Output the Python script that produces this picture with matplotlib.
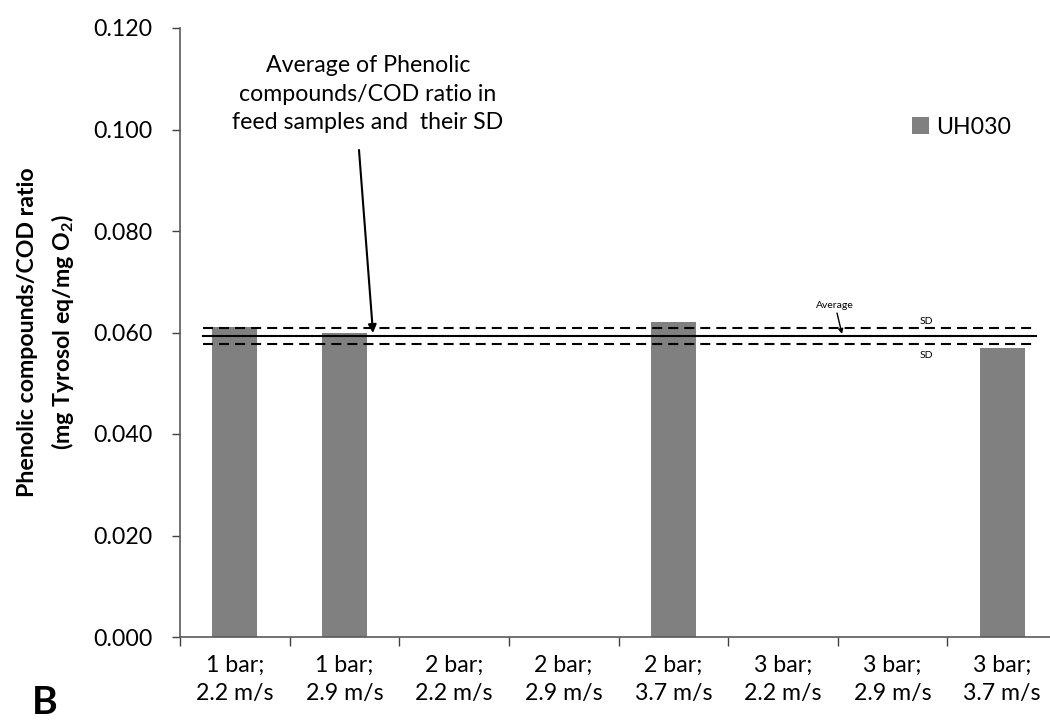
import matplotlib
matplotlib.use("Agg")
import matplotlib.pyplot as plt
import numpy as np

plt.rcParams['font.family'] = ['Lato', 'DejaVu Sans']

categories = ["1 bar;\n2.2 m/s", "1 bar;\n2.9 m/s", "2 bar;\n2.2 m/s", "2 bar;\n2.9 m/s",
              "2 bar;\n3.7 m/s", "3 bar;\n2.2 m/s", "3 bar;\n2.9 m/s", "3 bar;\n3.7 m/s"]
uh030 = [0.0610, 0.0600, np.nan, np.nan, 0.0621, np.nan, np.nan, 0.0569]
feed_average = 0.0593
feed_sd = 0.0016
series_name = "UH030"
yticks = [0.000, 0.020, 0.040, 0.060, 0.080, 0.100, 0.120]

W, H = 1050, 725
fig = plt.figure(figsize=(W/100, H/100), dpi=100)
renderer = fig.canvas.get_renderer()

# choose a font size so that a tick label has the width seen in the reference
probe = fig.text(0, 0, "0.120", fontsize=10)
w10 = probe.get_window_extent(renderer).width
probe.remove()
FS = 10 * 59 / w10

y_top_px, y0_px = 28, 637
ax = fig.add_axes([180/W, 1-y0_px/H, (1057-180)/W, (y0_px-y_top_px)/H])

x = np.arange(len(categories))
ax.bar(x, uh030, width=0.41, color='#808080', label=series_name, zorder=2)

ax.set_xlim(-0.5, len(categories) - 0.5)
ax.set_ylim(0, 0.12)
ax.set_yticks(yticks)
ax.set_yticklabels([f"{v:.3f}" for v in yticks], fontsize=FS)
ax.set_xticks(x)
ax.set_xticklabels(categories, fontsize=FS, linespacing=1.4)
ax.set_xticks(np.arange(-0.5, len(categories), 1), minor=True)
ax.tick_params(axis='x', which='major', length=0, pad=13)
ax.tick_params(axis='x', which='minor', length=6.5, width=1, color='#404040', direction='out')
ax.tick_params(axis='y', length=6, width=1, color='#404040', direction='out', pad=14)
for s in ['top', 'right']:
    ax.spines[s].set_visible(False)
for s in ['left', 'bottom']:
    ax.spines[s].set_color('#5a5a5a')
    ax.spines[s].set_linewidth(1.2)

xl = [-0.29, 7.31]
ax.plot(xl, [feed_average]*2, color='black', lw=1.5, zorder=3)
ax.plot(xl, [feed_average + feed_sd]*2, color='black', lw=1.5, dashes=(4.8, 2.9), zorder=3)
ax.plot(xl, [feed_average - feed_sd]*2, color='black', lw=1.5, dashes=(4.8, 2.9), zorder=3)

def px2data(px, py):
    return ax.transData.inverted().transform(fig.transFigure.transform((px/W, 1-py/H)))

tx, ty = px2data(368, 94)
ax0, ay0 = px2data(359, 150)
ax1, ay1 = px2data(373, 333)
ax.text(tx, ty, "Average of Phenolic\ncompounds/COD ratio in\nfeed samples and  their SD",
        ha='center', va='center', fontsize=FS, linespacing=1.45)
ax.annotate("", xy=(ax1, ay1), xytext=(ax0, ay0),
            arrowprops=dict(arrowstyle='-|>', color='black', lw=1.5, mutation_scale=12,
                            shrinkA=0, shrinkB=0))

avx, avy = px2data(835, 305)
a0 = px2data(837, 313)
a1 = px2data(842, 334)
ax.text(avx, avy, "Average", ha='center', va='center', fontsize=FS*0.45)
ax.annotate("", xy=a1, xytext=a0,
            arrowprops=dict(arrowstyle='-|>', color='black', lw=1, mutation_scale=7,
                            shrinkA=0, shrinkB=0))
s1 = px2data(926, 321)
s2 = px2data(926, 355)
ax.text(s1[0], s1[1], "SD", ha='center', va='center', fontsize=FS*0.45)
ax.text(s2[0], s2[1], "SD", ha='center', va='center', fontsize=FS*0.45)

fig.text(28/W, 1-332/H, "Phenolic compounds/COD ratio", rotation=90, ha='center', va='center',
         fontsize=FS, fontweight='bold')
fig.text(63/W, 1-332/H, "(mg Tyrosol eq/mg O$_\\mathregular{2}$)", rotation=90, ha='center',
         va='center', fontsize=FS, fontweight='bold')

ax.legend(loc='center left', bbox_to_anchor=(912/W, 1-127/H), bbox_transform=fig.transFigure,
          frameon=False, fontsize=FS, handlelength=0.75, handleheight=0.75, handletextpad=0.3,
          borderaxespad=0, borderpad=0)

fig.text(45/W, 1-714/H, "B", fontsize=FS*1.7, fontweight='bold', ha='center', va='baseline')

fig.savefig("out.png", dpi=100)
